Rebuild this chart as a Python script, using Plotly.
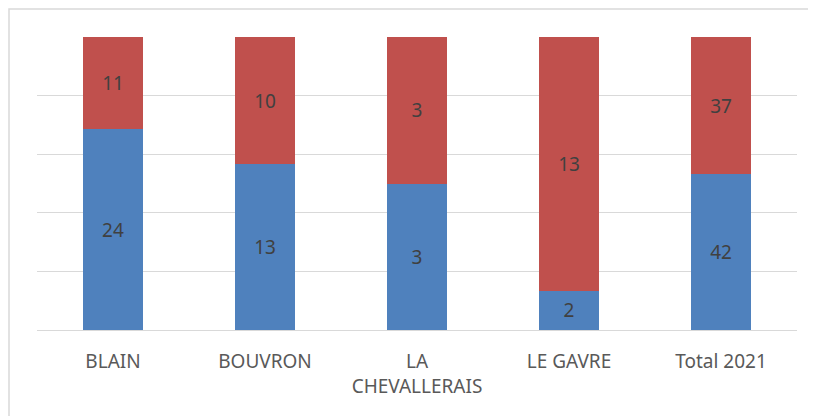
import plotly.graph_objects as go

categories = ["BLAIN", "BOUVRON", "LA<br>CHEVALLERAIS", "LE GAVRE", "Total 2021"]
series_blue = [24, 13, 3, 2, 42]
series_red = [11, 10, 3, 13, 37]

FONT = "Noto Sans, Open Sans, Liberation Sans, sans-serif"

fig = go.Figure()
fig.add_trace(go.Bar(x=categories, y=series_blue, marker=dict(color="#4F81BD", line=dict(width=0)),
                     text=[str(v) for v in series_blue], textposition="inside", insidetextanchor="middle",
                     textfont=dict(color="#404040", size=19, family=FONT), name="A"))
fig.add_trace(go.Bar(x=categories, y=series_red, marker=dict(color="#C0504D", line=dict(width=0)),
                     text=[str(v) for v in series_red], textposition="inside", insidetextanchor="middle",
                     textfont=dict(color="#404040", size=19, family=FONT), name="B"))

# page has an 8px body margin; compensate
L, R, T, B = 29, 27, 29, 94
W, H = 816, 416
pw, ph = W - L - R, H - T - B

fig.update_layout(
    barmode="stack", barnorm="percent", bargap=0.6,
    width=W, height=H, margin=dict(l=L, r=R, t=T, b=B),
    paper_bgcolor="white", plot_bgcolor="white", showlegend=False,
    font=dict(family=FONT, color="#595959", size=19),
    uniformtext=dict(mode=False),
    xaxis=dict(showgrid=False, showline=False, ticks="", ticklabelstandoff=18,
               tickfont=dict(size=19, color="#595959"), automargin=False),
    yaxis=dict(range=[0, 100], dtick=20, showgrid=True, gridcolor="#D9D9D9", gridwidth=1,
               showticklabels=False, zeroline=True, zerolinecolor="#D9D9D9", zerolinewidth=1,
               automargin=False),
    shapes=[dict(type="rect", xref="paper", yref="paper",
                 x0=(1 - L) / pw, x1=(W + 20 - L) / pw,
                 y0=-(H + 20 - T - ph) / ph, y1=1 + (T - 1) / ph,
                 line=dict(color="#D9D9D9", width=1.5), fillcolor="rgba(0,0,0,0)", layer="below")],
)
fig.write_html("out.html")
